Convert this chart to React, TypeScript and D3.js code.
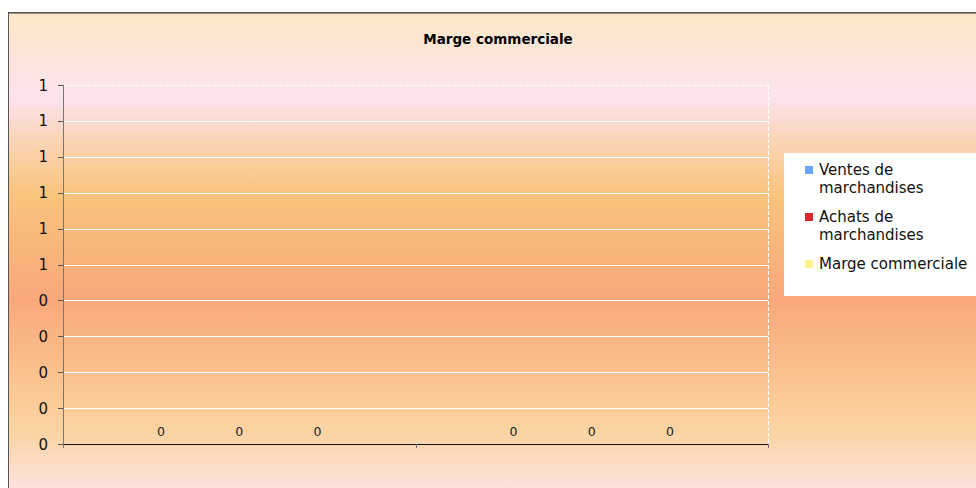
import React from "react";
import * as d3 from "d3";

const categories = ["Catégorie 1", "Catégorie 2"];
const seriesNames = ["Ventes de marchandises", "Achats de marchandises", "Marge commerciale"];
const ventes = [0, 0];
const achats = [0, 0];
const marge = [0, 0];
const seriesValues = [ventes, achats, marge];
const seriesColors = ["#66a6ff", "#dd2a32", "#fff28c"];
const legendLines = [["Ventes de", "marchandises"], ["Achats de", "marchandises"], ["Marge commerciale"]];
const yTickValues = [0, 0.1, 0.2, 0.3, 0.4, 0.5, 0.6, 0.7, 0.8, 0.9, 1.0];
const yTickLabels = ["0", "0", "0", "0", "0", "1", "1", "1", "1", "1", "1"];
const dataLabelText = "0";
const title = "Marge commerciale";

const W = 976;
const H = 488;
const plot = { left: 63, right: 768, top: 85, bottom: 444 };

export default function App() {
  const y = d3.scaleLinear().domain([0, 1]).range([plot.bottom, plot.top]);
  const x0 = d3.scaleBand<string>().domain(categories).range([plot.left, plot.right]).paddingInner(0).paddingOuter(0);
  const x1 = d3
    .scaleBand<string>()
    .domain(seriesNames)
    .range([0, x0.bandwidth()])
    .paddingInner(0)
    .paddingOuter(0.75);
  const font = "'DejaVu Sans', Verdana, sans-serif";

  const bandEdges = [...categories.map((c) => x0(c) as number), plot.right];

  return (
    <svg width={W} height={H} style={{ position: "absolute", left: 0, top: 0 }} fontFamily={font}>
      <defs>
        <linearGradient id="bg" x1="0" y1="12" x2="0" y2="490" gradientUnits="userSpaceOnUse">
          <stop offset="0" stopColor="#fbe8c6" />
          <stop offset="0.18" stopColor="#fde3ee" />
          <stop offset="0.26" stopColor="#fbd6bc" />
          <stop offset="0.38" stopColor="#f9c47c" />
          <stop offset="0.6" stopColor="#f9a87a" />
          <stop offset="0.8" stopColor="#fbc994" />
          <stop offset="0.88" stopColor="#fbd4a4" />
          <stop offset="1" stopColor="#fde3e0" />
        </linearGradient>
      </defs>
      <rect x={0} y={0} width={W} height={H} fill="#ffffff" />
      <rect x={8.5} y={12.5} width={W + 20} height={H + 20} fill="url(#bg)" stroke="#555555" strokeWidth={1} />
      <line x1={9} x2={W} y1={13.5} y2={13.5} stroke="#9a8f80" strokeWidth={1} />

      <text x={498} y={44} textAnchor="middle" fontWeight="bold" fontSize={13.5} fill="#000">
        {title}
      </text>

      {/* gridlines */}
      {yTickValues.slice(1, -1).map((v, i) => (
        <line key={i} x1={plot.left} x2={plot.right} y1={Math.round(y(v)) + 0.5} y2={Math.round(y(v)) + 0.5} stroke="#ffffff" strokeWidth={1} />
      ))}
      {/* plot area border (dashed top & right) */}
      <line x1={plot.left} x2={plot.right} y1={plot.top + 0.5} y2={plot.top + 0.5} stroke="#ffffff" strokeDasharray="4,2" />
      <line x1={plot.right + 0.5} x2={plot.right + 0.5} y1={plot.top} y2={plot.bottom} stroke="#ffffff" strokeDasharray="4,2" />

      {/* bars */}
      {categories.map((c, ci) =>
        seriesNames.map((s, si) => {
          const v = seriesValues[si][ci];
          const bx = (x0(c) as number) + (x1(s) as number);
          return (
            <g key={c + s}>
              <rect x={bx} y={y(v)} width={x1.bandwidth()} height={y(0) - y(v)} fill={seriesColors[si]} />
              <text x={bx + x1.bandwidth() / 2} y={y(v) - 8} textAnchor="middle" fontSize={12.5} fill="#222">
                {dataLabelText}
              </text>
            </g>
          );
        })
      )}

      {/* y axis */}
      <line x1={plot.left + 0.5} x2={plot.left + 0.5} y1={plot.top} y2={plot.bottom + 4} stroke="#777777" strokeWidth={1} />
      {yTickValues.map((v, i) => (
        <g key={i}>
          <line x1={plot.left - 5} x2={plot.left} y1={Math.round(y(v)) + 0.5} y2={Math.round(y(v)) + 0.5} stroke="#555555" />
          <text x={48} y={y(v) + 5.5} textAnchor="end" fontSize={15} fill="#111">
            {yTickLabels[i]}
          </text>
        </g>
      ))}

      {/* x axis */}
      <line x1={plot.left} x2={plot.right + 1} y1={plot.bottom + 0.5} y2={plot.bottom + 0.5} stroke="#111111" strokeWidth={1} />
      {bandEdges.map((bx, i) => (
        <line key={i} x1={Math.round(bx) + 0.5} x2={Math.round(bx) + 0.5} y1={plot.bottom} y2={plot.bottom + 4} stroke="#777777" />
      ))}

      {/* legend */}
      <rect x={784} y={153} width={W - 784} height={143} fill="#ffffff" />
      {(() => {
        let cy = 175;
        return legendLines.map((lines, i) => {
          const top = cy;
          cy += lines.length * 17.5 + 12;
          return (
            <g key={i}>
              <rect x={805} y={top - 9} width={8} height={8} fill={seriesColors[i]} />
              {lines.map((l, j) => (
                <text key={j} x={819} y={top + j * 17.5} fontSize={15} fill="#111">
                  {l}
                </text>
              ))}
            </g>
          );
        });
      })()}
    </svg>
  );
}
